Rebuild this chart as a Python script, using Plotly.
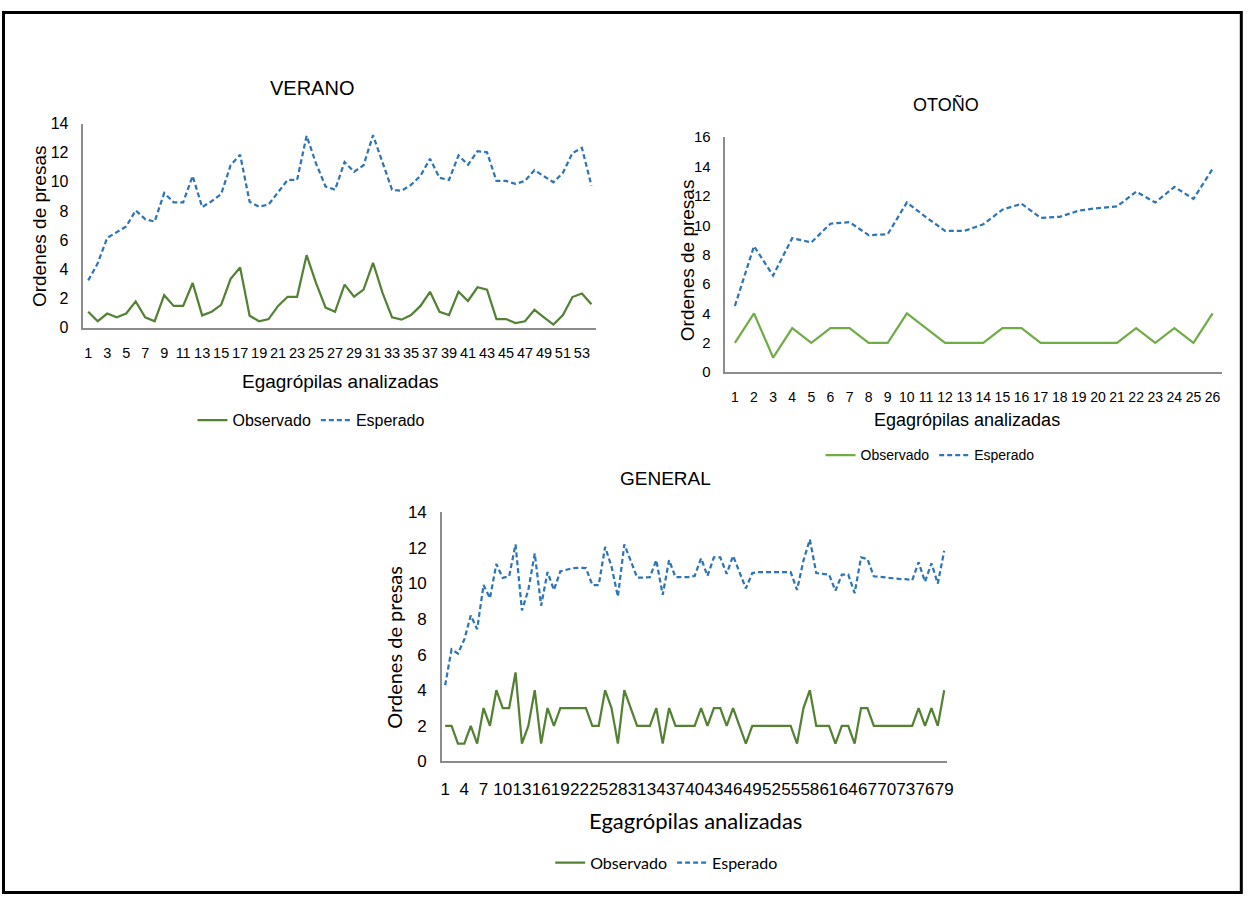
import plotly.graph_objects as go

W, H = 1249, 904

# ---------------- data ----------------
ver_x = list(range(1, 55))
ver_obs = [1.09, 0.44, 0.97, 0.71, 0.97, 1.80, 0.71, 0.44, 2.23, 1.49, 1.49, 3.06, 0.84, 1.09,
           1.56, 3.35, 4.12, 0.82, 0.44, 0.59, 1.49, 2.12, 2.12, 4.97, 3.06, 1.38, 1.09, 2.95,
           2.12, 2.61, 4.45, 2.39, 0.71, 0.55, 0.86, 1.49, 2.46, 1.09, 0.86, 2.46, 1.83, 2.77,
           2.61, 0.59, 0.59, 0.32, 0.44, 1.22, 0.71, 0.21, 0.86, 2.10, 2.34, 1.60]
ver_esp = [3.24, 4.41, 6.16, 6.54, 6.94, 8.04, 7.44, 7.28, 9.23, 8.60, 8.60, 10.40, 8.27, 8.67,
           9.16, 11.14, 11.86, 8.63, 8.29, 8.45, 9.30, 10.13, 10.13, 13.16, 11.25, 9.68, 9.46, 11.36,
           10.69, 11.14, 13.20, 11.36, 9.46, 9.39, 9.79, 10.42, 11.59, 10.28, 10.13, 11.81, 11.18, 12.10,
           12.03, 10.06, 10.06, 9.86, 10.06, 10.80, 10.40, 9.97, 10.62, 11.97, 12.33, 9.74]
ver_ticks = list(range(1, 54, 2))

oto_x = list(range(1, 27))
oto_obs = [2, 4, 1, 3, 2, 3, 3, 2, 2, 4, 3, 2, 2, 2, 3, 3, 2, 2, 2, 2, 2, 3, 2, 3, 2, 4]
oto_esp = [4.51, 8.58, 6.58, 9.13, 8.84, 10.11, 10.22, 9.33, 9.40, 11.56, 10.56, 9.62, 9.62,
           10.07, 11.07, 11.47, 10.51, 10.58, 11.00, 11.18, 11.29, 12.29, 11.56, 12.62, 11.80, 13.84]
oto_ticks = list(range(1, 27))

gen_x = list(range(1, 80))
gen_obs = [2, 2, 1, 1, 2, 1, 3, 2, 4, 3, 3, 5, 1, 2, 4, 1, 3, 2, 3, 3, 3, 3, 3, 2, 2, 4, 3, 1,
           4, 3, 2, 2, 2, 3, 1, 3, 2, 2, 2, 2, 3, 2, 3, 3, 2, 3, 2, 1, 2, 2, 2, 2, 2, 2, 2, 1,
           3, 4, 2, 2, 2, 1, 2, 2, 1, 3, 3, 2, 2, 2, 2, 2, 2, 2, 3, 2, 3, 2, 4]
gen_esp = [4.28, 6.30, 6.06, 6.85, 8.20, 7.43, 9.91, 9.17, 11.09, 10.31, 10.40, 12.19, 8.48, 9.63,
           11.68, 8.75, 10.64, 9.63, 10.68, 10.76, 10.86, 10.87, 10.86, 9.91, 9.91, 12.05, 10.95, 9.26,
           12.19, 11.28, 10.33, 10.33, 10.35, 11.31, 9.36, 11.31, 10.35, 10.35, 10.35, 10.42, 11.41, 10.42,
           11.46, 11.46, 10.54, 11.55, 10.64, 9.72, 10.58, 10.64, 10.64, 10.64, 10.64, 10.64, 10.64, 9.63,
           11.28, 12.47, 10.58, 10.54, 10.50, 9.59, 10.49, 10.50, 9.45, 11.46, 11.37, 10.40, 10.35, 10.33,
           10.29, 10.25, 10.24, 10.18, 11.19, 10.09, 11.13, 9.99, 11.83]
gen_ticks = list(range(1, 80, 3))

# ---------------- style ----------------
GREEN_D = "#548235"
GREEN_L = "#70AD47"
BLUE = "#2E75B6"
AXIS = "#8C8C8C"
ARIAL = "Liberation Sans, Arial"
CAL = "Lato, Carlito, Calibri"

def px(x):
    return x / W

def py(y):
    return 1 - y / H

fig = go.Figure()

panels = [
    (ver_x, ver_obs, ver_esp, GREEN_D, "x", "y", "legend"),
    (oto_x, oto_obs, oto_esp, GREEN_L, "x2", "y2", "legend2"),
    (gen_x, gen_obs, gen_esp, GREEN_D, "x3", "y3", "legend3"),
]

for xs, obs, esp, g, xa, ya, lg in panels:
    fig.add_trace(go.Scatter(x=xs, y=obs, mode="lines", name="Observado",
                             line=dict(color=g, width=2.25), xaxis=xa, yaxis=ya, legend=lg))
    fig.add_trace(go.Scatter(x=xs, y=esp, mode="lines", name="Esperado",
                             line=dict(color=BLUE, width=2.25, dash="5px,3px"),
                             xaxis=xa, yaxis=ya, legend=lg))

def xaxis_cfg(dom, n, ticks, font, anchor):
    return dict(domain=dom, range=[0.5, n + 0.5], tickmode="array", tickvals=ticks,
                ticktext=[str(t) for t in ticks], tickangle=0, showgrid=False, zeroline=False,
                showline=True, linecolor=AXIS, linewidth=1.5, ticks="", ticklabelstandoff=11,
                tickfont=font, anchor=anchor, fixedrange=True)

def yaxis_cfg(dom, top, font, anchor):
    return dict(domain=dom, range=[0, top], tickmode="array", tickvals=list(range(0, top + 1, 2)),
                showgrid=False, zeroline=False, showline=True, linecolor=AXIS, linewidth=1.5,
                ticks="", ticklabelstandoff=10, tickfont=font, anchor=anchor, fixedrange=True)

def f(family, size):
    return dict(family=family, size=size, color="#000000")

fig.update_layout(
    width=W, height=H,
    margin=dict(l=0, r=0, t=0, b=0),
    paper_bgcolor="white", plot_bgcolor="white",
    xaxis=xaxis_cfg([px(82), px(598)], 54, ver_ticks, f(ARIAL, 14.5), "y"),
    yaxis=yaxis_cfg([py(325.5), py(117)], 14, f(ARIAL, 16), "x"),
    xaxis2=xaxis_cfg([px(728), px(1228)], 26, oto_ticks, f(ARIAL, 14), "y2"),
    yaxis2=yaxis_cfg([py(371), py(131)], 16, f(ARIAL, 15), "x2"),
    xaxis3=xaxis_cfg([px(442.8), px(951.5)], 79, gen_ticks, f(ARIAL, 17), "y3"),
    yaxis3=yaxis_cfg([py(768.6), py(514)], 14, f(ARIAL, 17), "x3"),
    showlegend=True,
    legend=dict(orientation="h", x=px(311), y=py(420), xanchor="center", yanchor="middle",
                font=f(ARIAL, 16), bgcolor="rgba(0,0,0,0)", itemwidth=30),
    legend2=dict(orientation="h", x=px(934), y=py(456), xanchor="center", yanchor="middle",
                 font=f(ARIAL, 14), bgcolor="rgba(0,0,0,0)", itemwidth=30),
    legend3=dict(orientation="h", x=px(669), y=py(872), xanchor="center", yanchor="middle",
                 font=f(CAL, 16), bgcolor="rgba(0,0,0,0)", itemwidth=30),
)

def ann(text, x, y, size, family, angle=0):
    fig.add_annotation(text=text, x=px(x), y=py(y), xref="paper", yref="paper",
                       showarrow=False, xanchor="center", yanchor="middle", textangle=angle,
                       font=f(family, size))

# titles
ann("VERANO", 312, 81, 20, ARIAL)
ann("OTOÑO", 950, 98, 18, ARIAL)
ann("GENERAL", 668, 480, 19, ARIAL)
# axis titles
ann("Egagrópilas analizadas", 340, 381, 19, ARIAL)
ann("Ordenes de presas", 38, 222, 19, ARIAL, -90)
ann("Egagrópilas analizadas", 971, 420, 18, ARIAL)
ann("Ordenes de presas", 690, 257, 19, ARIAL, -90)
ann("Egagrópilas analizadas", 698, 829, 22, CAL)
ann("Ordenes de presas", 395, 652, 20, CAL, -90)

# outer border
fig.add_shape(type="rect", xref="paper", yref="paper",
              x0=px(1.5), x1=px(1247.3), y0=py(902.5), y1=py(3.7),
              line=dict(color="#000000", width=3), fillcolor="rgba(0,0,0,0)", layer="above")

fig.write_html("out.html")
